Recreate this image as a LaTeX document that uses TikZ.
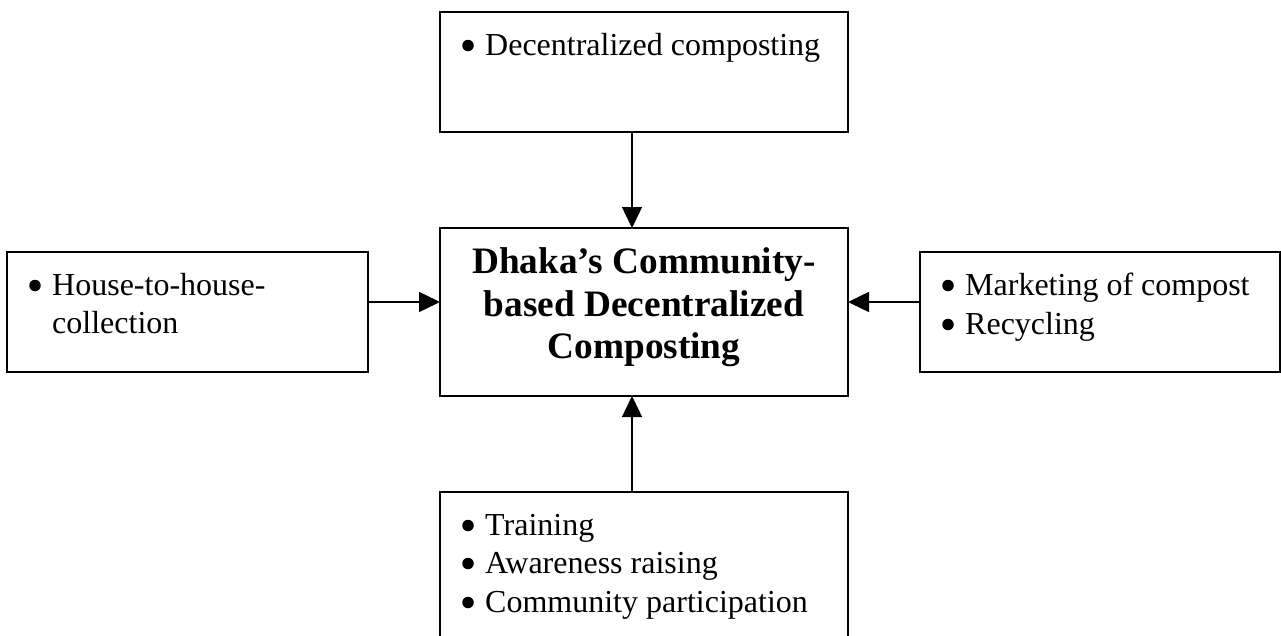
\documentclass[tikz,border=0pt]{standalone}
\usepackage{fontspec}
\setmainfont{Liberation Serif}
\usetikzlibrary{arrows.meta}
\begin{document}
\begin{tikzpicture}[x=1pt,y=-1pt,
  box/.style={draw, line width=1.6pt, rectangle, inner sep=0pt, outer sep=0pt, anchor=north west},
  item/.style={anchor=base west, inner sep=0pt, font=\fontsize{32}{38.4}\selectfont},
  dot/.style={circle, fill, inner sep=0pt, minimum size=11.5pt},
  head/.style={anchor=base, inner sep=0pt, font=\fontsize{37.3}{43}\selectfont\bfseries},
  link/.style={line width=1.5pt, -{Triangle[length=21pt,width=20pt]}}]
\useasboundingbox (0,0) rectangle (1281,635);
\clip (0,0) rectangle (1281,635);

% boxes
\node[box, minimum width=408pt, minimum height=120pt] (src) at (440,12) {};
\node[box, minimum width=408pt, minimum height=168pt] (hub) at (440,228) {};
\node[box, minimum width=361pt, minimum height=120pt] (left) at (7,252) {};
\node[box, minimum width=360pt, minimum height=120pt] (right) at (920,252) {};
\node[box, minimum width=408pt, minimum height=170pt] (bottom) at (440,492) {};

% central title
\node[head] (h1) at (644,273) {Dhaka’s Community-};
\node[head] (h2) at (644,316) {based Decentralized};
\node[head] (h3) at (644,358) {Composting};

% top box
\node[dot] (b1) at (468,45.5) {};
\node[item] (s1) at (485,55) {Decentralized composting};

% left box
\node[dot] (b2) at (35,285.5) {};
\node[item] (s2) at (52,295) {House-to-house-};
\node[item] (s3) at (52,333) {collection};

% right box
\node[dot] (b3) at (948,285.5) {};
\node[item] (s4) at (965,295) {Marketing of compost};
\node[dot] (b4) at (948,324.5) {};
\node[item] (s5) at (965,334) {Recycling};

% bottom box
\node[dot] (b5) at (468,525.5) {};
\node[item] (s6) at (485,535) {Training};
\node[dot] (b6) at (468,563.5) {};
\node[item] (s7) at (485,573) {Awareness raising};
\node[dot] (b7) at (468,602.5) {};
\node[item] (s8) at (485,612) {Community participation};

% connectors
\draw[link] ([xshift=-12pt]src.south) -- ([xshift=-12pt]hub.north);
\draw[link] ([yshift=10pt]left.east) -- ([yshift=10pt]hub.west);
\draw[link] ([yshift=10pt]right.west) -- ([yshift=10pt]hub.east);
\draw[link] ([xshift=-12pt]bottom.north) -- ([xshift=-12pt]hub.south);
\end{tikzpicture}
\end{document}
